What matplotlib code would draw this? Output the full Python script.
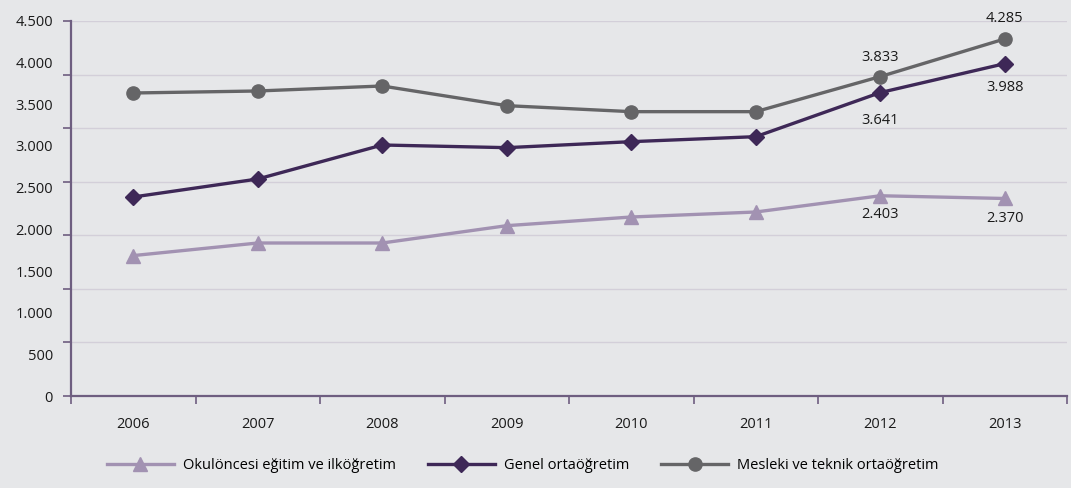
import matplotlib
matplotlib.use("Agg")
import matplotlib.pyplot as plt
import numpy as np
from matplotlib.ticker import FixedLocator, NullFormatter, FixedFormatter

years = ["2006", "2007", "2008", "2009", "2010", "2011", "2012", "2013"]
okul_oncesi = [1685, 1836, 1836, 2044, 2148, 2208, 2403, 2370]
genel = [2388, 2604, 3012, 2980, 3052, 3112, 3641, 3988]
mesleki = [3636, 3660, 3720, 3484, 3412, 3412, 3833, 4285]

series_names = ["Okulöncesi eğitim ve ilköğretim", "Genel ortaöğretim",
                "Mesleki ve teknik ortaöğretim"]
y_labels = ["0", "500", "1.000", "1.500", "2.000", "2.500",
            "3.000", "3.500", "4.000", "4.500"]

bg = "#e6e7e9"
c_okul = "#a292b2"
c_genel = "#3e2857"
c_mes = "#656567"
axis_c = "#6e5e80"
grid_c = "#d3cfd9"

plt.rcParams["font.family"] = ["Open Sans", "DejaVu Sans"]

fig = plt.figure(figsize=(10.71, 4.88), dpi=100, facecolor=bg)
ax = fig.add_axes([0.0663, 0.1885, 0.93, 0.7685], facecolor=bg)

x = np.arange(len(years))
ymax = 4500

ax.plot(x, okul_oncesi, color=c_okul, lw=2.4, marker="^", ms=10,
        label=series_names[0], zorder=3)
ax.plot(x, genel, color=c_genel, lw=2.4, marker="D", ms=8.5,
        label=series_names[1], zorder=4)
ax.plot(x, mesleki, color=c_mes, lw=2.4, marker="o", ms=9.5,
        label=series_names[2], zorder=5)

ax.set_xlim(-0.5, len(years) - 0.5)
ax.set_ylim(0, ymax)

# gridlines and y tick marks on seven equal divisions; labels every 500
ax.yaxis.remove_overlapping_locs = False
ax.yaxis.set_major_locator(FixedLocator(np.linspace(0, ymax, 8)))
ax.yaxis.set_major_formatter(NullFormatter())
ax.yaxis.set_minor_locator(FixedLocator(np.arange(0, ymax + 1, 500)))
ax.yaxis.set_minor_formatter(FixedFormatter(y_labels))
ax.tick_params(axis="y", which="major", length=6, width=1.2, color=axis_c,
               direction="out")
ax.tick_params(axis="y", which="minor", length=0, pad=13, labelsize=10.5,
               labelcolor="#1a1a1a")
ax.grid(axis="y", which="major", color=grid_c, lw=1)

# x: tick marks at category boundaries, labels at centres
ax.xaxis.set_major_locator(FixedLocator(np.arange(-0.5, len(years), 1)))
ax.xaxis.set_major_formatter(NullFormatter())
ax.xaxis.set_minor_locator(FixedLocator(x))
ax.xaxis.set_minor_formatter(FixedFormatter(years))
ax.tick_params(axis="x", which="major", length=6, width=1.2, color=axis_c,
               direction="out")
ax.tick_params(axis="x", which="minor", length=0, pad=15, labelsize=10.5,
               labelcolor="#1a1a1a")

for side in ["top", "right"]:
    ax.spines[side].set_visible(False)
for side in ["left", "bottom"]:
    ax.spines[side].set_color(axis_c)
    ax.spines[side].set_linewidth(1.6)
ax.set_axisbelow(True)


def fmt(v):
    return f"{v:,}".replace(",", ".")


lab_kw = dict(ha="center", fontsize=10.5, color="#1a1a1a")
ax.annotate(fmt(mesleki[7]), (x[7], mesleki[7]), xytext=(0, 9),
            textcoords="offset points", va="bottom", **lab_kw)
ax.annotate(fmt(mesleki[6]), (x[6], mesleki[6]), xytext=(0, 8),
            textcoords="offset points", va="bottom", **lab_kw)
ax.annotate(fmt(genel[6]), (x[6], genel[6]), xytext=(0, -15),
            textcoords="offset points", va="top", **lab_kw)
ax.annotate(fmt(genel[7]), (x[7], genel[7]), xytext=(0, -12),
            textcoords="offset points", va="top", **lab_kw)
ax.annotate(fmt(okul_oncesi[6]), (x[6], okul_oncesi[6]), xytext=(0, -8),
            textcoords="offset points", va="top", **lab_kw)
ax.annotate(fmt(okul_oncesi[7]), (x[7], okul_oncesi[7]), xytext=(0, -9),
            textcoords="offset points", va="top", **lab_kw)

fig.legend(loc="lower center", bbox_to_anchor=(0.488, 0.003), ncol=3,
           frameon=False, fontsize=10.5, handlelength=4.6,
           columnspacing=2.2, handletextpad=0.6)

fig.savefig("out.png", dpi=100, facecolor=bg)
